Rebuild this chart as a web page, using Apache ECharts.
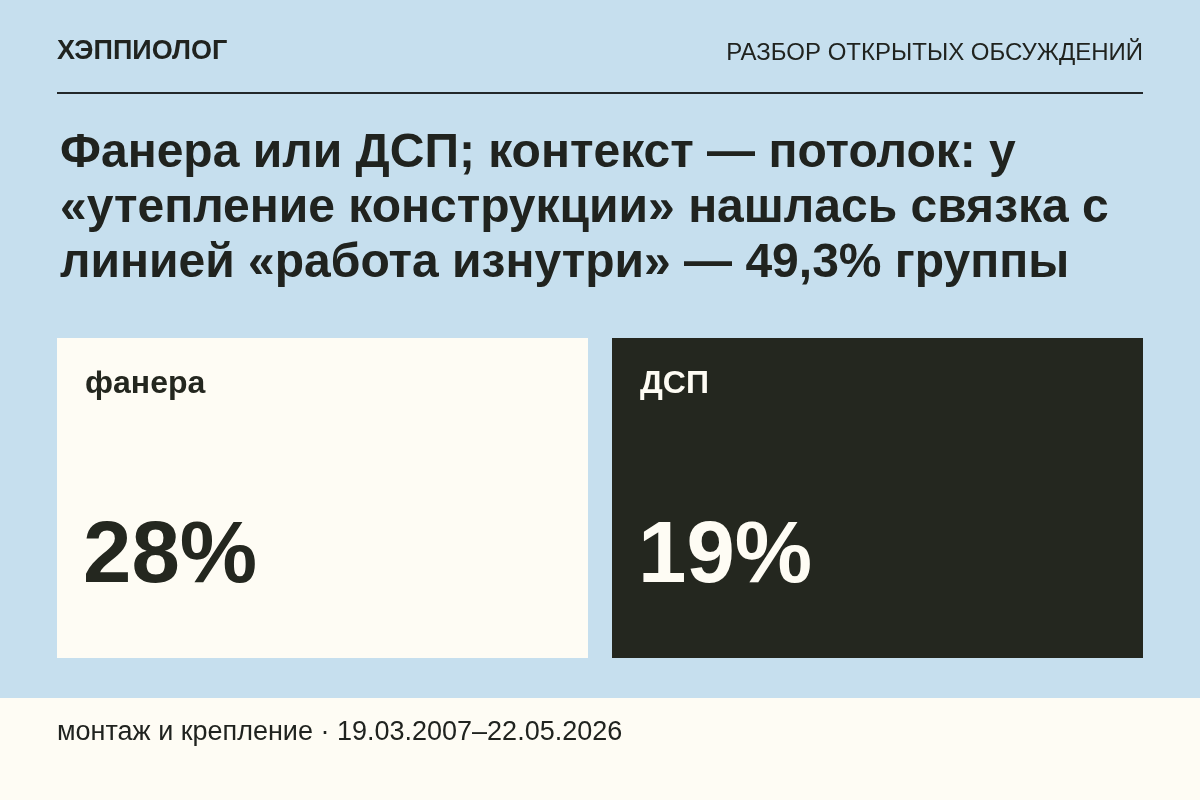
<!DOCTYPE html>
<html>
<head>
<meta charset="utf-8">
<script src="https://cdn.jsdelivr.net/npm/echarts@6/dist/echarts.min.js"></script>
<style>
  html, body { margin: 0; padding: 0; background: #c6dfee; }
  #chart { width: 1200px; height: 800px; }
</style>
</head>
<body>
<div id="chart"></div>
<script>
var categories = ['фанера', 'ДСП'];
var shares = [28, 19];
var titleLines = [
  'Фанера или ДСП; контекст — потолок: у',
  '«утепление конструкции» нашлась связка с',
  'линией «работа изнутри» — 49,3% группы'
];
var brand = 'ХЭППИОЛОГ';
var section = 'РАЗБОР ОТКРЫТЫХ ОБСУЖДЕНИЙ';
var footnote = 'монтаж и крепление · 19.03.2007–22.05.2026';

var FONT = '"Liberation Sans", Arial, sans-serif';
var INK = '#20231f';
var cardFill = ['#fefcf4', '#24271f'];
var cardInk = ['#24271f', '#fefcf4'];

var myChart = echarts.init(document.getElementById('chart'));

// one card per category, placed on the category band
function renderCard(params, api) {
  var i = api.value(0);
  var cs = params.coordSys;
  var cx = api.coord([i, 0])[0];
  var band = api.size([1, 0])[0];
  var w = band - 24;
  var x0 = cx - w / 2;
  return {
    type: 'group',
    children: [
      {
        type: 'rect',
        shape: { x: x0, y: cs.y, width: w, height: cs.height },
        style: { fill: cardFill[i] }
      },
      {
        type: 'text',
        style: {
          x: x0 + 28, y: cs.y + 46,
          text: categories[i],
          fill: cardInk[i],
          font: 'bold 32px ' + FONT,
          textVerticalAlign: 'middle'
        }
      },
      {
        type: 'text',
        style: {
          x: x0 + 26, y: cs.y + 220,
          text: api.value(1) + '%',
          fill: cardInk[i],
          font: 'bold 87px ' + FONT,
          textVerticalAlign: 'middle'
        }
      }
    ]
  };
}

var option = {
  backgroundColor: '#c6dfee',
  animation: false,
  title: {
    text: titleLines.join('\n'),
    left: 55,
    top: 121,
    textStyle: {
      fontFamily: FONT,
      fontSize: 48,
      fontWeight: 'bold',
      lineHeight: 55,
      color: INK
    }
  },
  grid: { left: 45, right: 45, top: 338, bottom: 142 },
  xAxis: { type: 'category', data: categories, show: false },
  yAxis: { type: 'value', min: 0, max: 100, show: false },
  series: [{
    type: 'custom',
    renderItem: renderCard,
    encode: { x: 0, y: 1 },
    data: shares.map(function (v, i) { return [i, v]; })
  }],
  graphic: [
    {
      type: 'text', left: 57, top: 38, z: 10,
      style: { text: brand, font: 'bold 27px ' + FONT, fill: INK }
    },
    {
      type: 'text', right: 57, top: 41, z: 10,
      style: { text: section, font: '24px ' + FONT, fill: INK }
    },
    {
      type: 'rect', left: 57, top: 92, z: 10,
      shape: { width: 1086, height: 2 },
      style: { fill: '#22282a' }
    },
    {
      type: 'rect', left: 0, top: 698, z: 1,
      shape: { width: 1200, height: 102 },
      style: { fill: '#fefcf4' }
    },
    {
      type: 'text', left: 57, top: 719, z: 10,
      style: { text: footnote, font: '27px ' + FONT, fill: INK }
    }
  ]
};

myChart.setOption(option);
</script>
</body>
</html>
